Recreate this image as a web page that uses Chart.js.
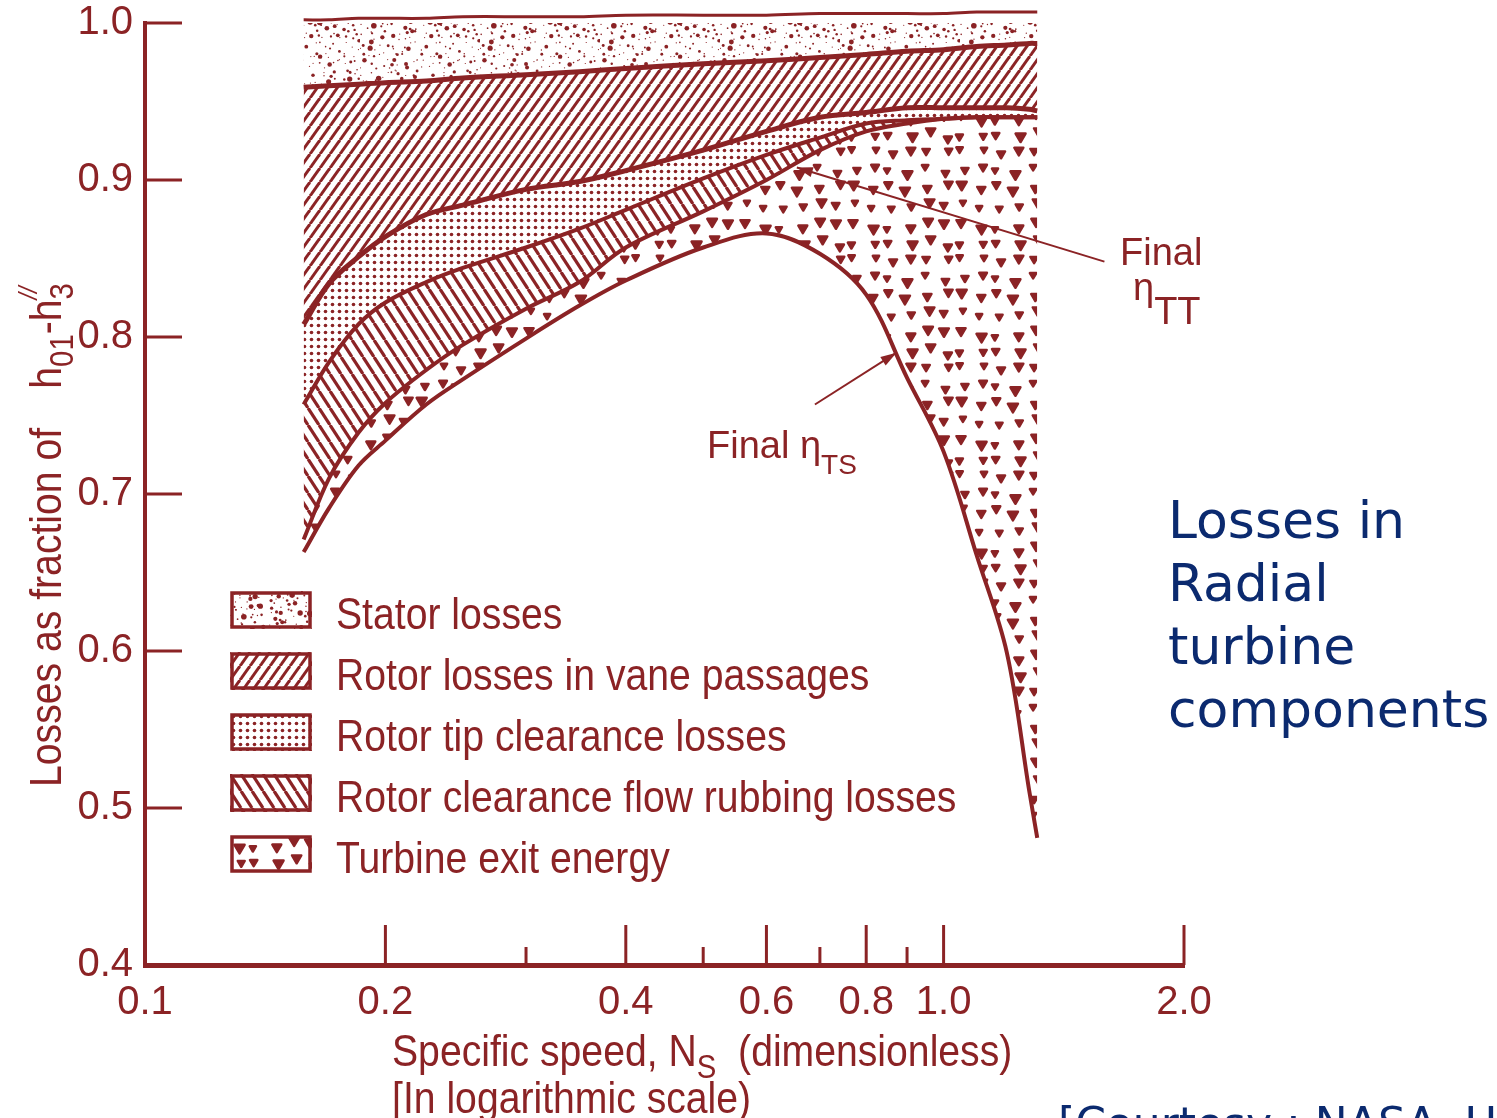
<!DOCTYPE html>
<html>
<head>
<meta charset="utf-8">
<script src="https://cdn.jsdelivr.net/npm/chart.js@4.4.1/dist/chart.umd.min.js"></script>
<style>
  html, body { margin: 0; padding: 0; background: #fff; }
  #wrap { position: relative; width: 1497px; height: 1118px; overflow: hidden; background: #fff; }
  #chart { position: absolute; left: 0; top: 0; }
  .red { color: #8b2325; font-family: 'Liberation Sans', Arial, sans-serif; }
  .txt { position: absolute; white-space: nowrap; font-size: 44px; line-height: 1; transform-origin: 0 0; transform: scaleX(0.89); }
  .txt sub { font-size: 0.75em; vertical-align: -0.35em; line-height: 0; }
  .txt sup { font-size: 0.6em; vertical-align: 0.9em; line-height: 0; font-style: italic; }
  .note { position: absolute; white-space: nowrap; font-size: 38px; line-height: 1; font-family: 'Liberation Sans', Arial, sans-serif; color: #8b2325; }
  .navy { position: absolute; color: #0b2a6f; font-family: 'DejaVu Sans', Verdana, sans-serif; font-size: 52px; line-height: 63px; white-space: nowrap; }
  #legend { position: absolute; left: 230px; top: 591px; }
  .row { position: relative; height: 61px; }
  .row canvas { position: absolute; left: 0; top: 0; }
  .row span { position: absolute; left: 106px; top: 1px; }
</style>
</head>
<body>
<div id="wrap">
  <canvas id="chart" width="1497" height="1118"></canvas>

  <div class="txt red" style="left:24px; top:787px; transform:rotate(-90deg) scaleX(0.89);">Losses as fraction of<span style="margin-left:44px">h<sub>01</sub>-h<sub>3</sub><sup style="margin-left:-0.7em">//</sup></span></div>

  <div class="txt red" style="left:392px; top:1029px;">Specific speed, N<sub>S</sub> &nbsp;(dimensionless)</div>
  <div class="txt red" style="left:392px; top:1076px;">[In logarithmic scale)</div>

  <div class="note" style="left:1120px; top:233px;">Final</div>
  <div class="note" style="left:1133px; top:268px;">η<span style="position:relative; top:24px;">TT</span></div>
  <div class="note" style="left:707px; top:426px;">Final η<span style="font-size:28px; position:relative; top:16px;">TS</span></div>

  <div class="navy" style="left:1168px; top:489px;">Losses in<br>Radial<br>turbine<br>components</div>
  <div class="navy" style="left:1058px; top:1092px; font-size:44px;">[Courtesy : NASA, USA]</div>

  <div id="legend" class="red"></div>
</div>

<script>
// specific speed Ns (log axis) and boundary curves of the loss bands
const specificSpeed = [0.158, 0.17, 0.185, 0.2, 0.225, 0.25, 0.3, 0.35, 0.4, 0.5, 0.6, 0.7, 0.8, 0.9, 1.0, 1.1, 1.2, 1.28, 1.31];
const statorTop    = [1.002, 1.002, 1.003, 1.003, 1.003, 1.004, 1.004, 1.004, 1.005, 1.005, 1.005, 1.006, 1.006, 1.006, 1.006, 1.007, 1.007, 1.007, 1.007];
const statorBottom = [0.959, 0.960, 0.961, 0.962, 0.963, 0.965, 0.967, 0.969, 0.971, 0.974, 0.976, 0.978, 0.980, 0.982, 0.983, 0.985, 0.986, 0.987, 0.987];
const vaneBottom   = [0.808, 0.834, 0.851, 0.864, 0.878, 0.884, 0.894, 0.899, 0.906, 0.919, 0.931, 0.940, 0.943, 0.946, 0.946, 0.946, 0.946, 0.945, 0.944];
const tipBottom    = [0.757, 0.784, 0.808, 0.822, 0.835, 0.844, 0.857, 0.869, 0.881, 0.901, 0.916, 0.927, 0.936, 0.938, 0.939, 0.940, 0.940, 0.940, 0.940];
const etaTT        = [0.671, 0.710, 0.739, 0.758, 0.779, 0.795, 0.818, 0.835, 0.857, 0.880, 0.900, 0.919, 0.931, 0.936, 0.939, 0.940, 0.940, 0.940, 0.940];
const etaTS        = [0.663, 0.691, 0.718, 0.734, 0.757, 0.773, 0.799, 0.820, 0.836, 0.857, 0.866, 0.853, 0.827, 0.774, 0.727, 0.661, 0.599, 0.511, 0.481];

const bandLabels = ['Stator losses', 'Rotor losses in vane passages', 'Rotor tip clearance losses', 'Rotor clearance flow rubbing losses', 'Turbine exit energy'];

const xTickLabels = [0.1, 0.2, 0.4, 0.6, 0.8, 1.0, 2.0];
const xMinorTicks = [0.3, 0.5, 0.7, 0.9];
const yTickLabels = [0.4, 0.5, 0.6, 0.7, 0.8, 0.9, 1.0];

// arrows of the two efficiency notes, in data units [Ns, fraction]
const ttArrow = { from: [1.59, 0.848], to: [0.655, 0.908] };
const tsArrow = { from: [0.69, 0.757], to: [0.873, 0.790] };

const RED = '#8b2325';

// --- fill textures ---
function hash(n) {
    const s = Math.sin(n * 127.1 + 311.7) * 43758.5453;
    return s - Math.floor(s);
}

function tile(w, h) {
    const c = document.createElement('canvas');
    c.width = w; c.height = h;
    return c;
}

function stipple() {
    const c = tile(120, 120), g = c.getContext('2d');
    g.fillStyle = RED;
    let k = 0;
    for (let i = 0; i < 20; i++) {
        for (let j = 0; j < 20; j++) {
            k++;
            if (hash(k * 3) < 0.2) continue;
            const px = i * 6 + hash(k * 3 + 1) * 6;
            const py = j * 6 + hash(k * 3 + 2) * 6;
            const r = 0.6 + Math.pow(hash(k * 7 + 5), 3) * 2.3;
            g.beginPath(); g.arc(px, py, r, 0, Math.PI * 2); g.fill();
        }
    }
    return g.createPattern(c, 'repeat');
}

function hatch(w, h, lw, back) {
    const c = tile(w, h), g = c.getContext('2d');
    g.strokeStyle = RED; g.lineWidth = lw;
    for (let k = -1; k <= 1; k++) {
        g.beginPath();
        if (back) { g.moveTo(k * w, 0); g.lineTo(k * w + w, h); }
        else { g.moveTo(k * w, h); g.lineTo(k * w + w, 0); }
        g.stroke();
    }
    return g.createPattern(c, 'repeat');
}

function dotGrid() {
    const c = tile(7, 7), g = c.getContext('2d');
    g.fillStyle = RED;
    g.beginPath(); g.arc(3.5, 3.5, 1.8, 0, Math.PI * 2); g.fill();
    return g.createPattern(c, 'repeat');
}

function blobs() {
    const c = tile(108, 108), g = c.getContext('2d');
    g.fillStyle = RED; g.strokeStyle = RED; g.lineWidth = 2.5; g.lineJoin = 'round';
    let k = 0;
    for (let i = 0; i < 6; i++) {
        for (let j = 0; j < 6; j++) {
            k++;
            const cx = i * 18 + 9 + (hash(k * 5) - 0.5) * 9;
            const cy = j * 18 + 9 + (hash(k * 5 + 1) - 0.5) * 9;
            const s = 3 + hash(k * 5 + 2) * 2.2;
            g.beginPath();
            g.moveTo(cx - s, cy - s * 0.7);
            g.lineTo(cx + s, cy - s * 0.7);
            g.lineTo(cx, cy + s);
            g.closePath();
            g.fill(); g.stroke();
        }
    }
    return g.createPattern(c, 'repeat');
}

const fills = [stipple(), hatch(10, 14, 3, false), dotGrid(), hatch(11, 17, 3.2, true), blobs()];

const curves = [statorTop, statorBottom, vaneBottom, tipBottom, etaTT, etaTS];
const widths = [3, 5, 5, 4, 4, 4];

const datasets = curves.map((vals, i) => ({
    label: bandLabels[i] || 'Final ηTS',
    data: specificSpeed.map((x, j) => ({ x: x, y: vals[j] })),
    borderColor: RED,
    borderWidth: widths[i],
    backgroundColor: fills[i] || 'transparent',
    fill: i < fills.length ? '+1' : false,
    tension: 0.35,
    pointRadius: 0,
    clip: false
}));

// --- ticks pointing into the plot, arrows ---
function seg(ctx, x1, y1, x2, y2) {
    ctx.beginPath(); ctx.moveTo(x1, y1); ctx.lineTo(x2, y2); ctx.stroke();
}

const innerTicks = {
    id: 'innerTicks',
    afterDraw(chart) {
        const { ctx, chartArea, scales: { x, y } } = chart;
        ctx.save();
        ctx.strokeStyle = RED;
        ctx.lineWidth = 3;
        xTickLabels.slice(1).forEach(v => {
            const px = x.getPixelForValue(v);
            seg(ctx, px, chartArea.bottom, px, chartArea.bottom - 40);
        });
        xMinorTicks.forEach(v => {
            const px = x.getPixelForValue(v);
            seg(ctx, px, chartArea.bottom, px, chartArea.bottom - 18);
        });
        yTickLabels.slice(1).forEach(v => {
            const py = y.getPixelForValue(v);
            seg(ctx, chartArea.left, py, chartArea.left + 37, py);
        });
        ctx.restore();
    }
};

const arrows = {
    id: 'arrows',
    afterDraw(chart) {
        const { ctx, scales: { x, y } } = chart;
        ctx.save();
        ctx.strokeStyle = RED; ctx.fillStyle = RED; ctx.lineWidth = 2;
        [ttArrow, tsArrow].forEach(a => {
            const x1 = x.getPixelForValue(a.from[0]), y1 = y.getPixelForValue(a.from[1]);
            const x2 = x.getPixelForValue(a.to[0]), y2 = y.getPixelForValue(a.to[1]);
            seg(ctx, x1, y1, x2, y2);
            const ang = Math.atan2(y2 - y1, x2 - x1);
            ctx.beginPath();
            ctx.moveTo(x2, y2);
            ctx.lineTo(x2 - 16 * Math.cos(ang) + 5 * Math.sin(ang), y2 - 16 * Math.sin(ang) - 5 * Math.cos(ang));
            ctx.lineTo(x2 - 16 * Math.cos(ang) - 5 * Math.sin(ang), y2 - 16 * Math.sin(ang) + 5 * Math.cos(ang));
            ctx.closePath();
            ctx.fill();
        });
        ctx.restore();
    }
};

Chart.defaults.font.family = "'Liberation Sans', Arial, sans-serif";
Chart.defaults.color = RED;

const tickFont = { size: 40 };

new Chart(document.getElementById('chart'), {
    type: 'line',
    data: { datasets: datasets },
    options: {
        responsive: false,
        animation: false,
        layout: { padding: { top: 23, right: 313, bottom: 0, left: 0 } },
        plugins: { legend: { display: false }, tooltip: { enabled: false } },
        scales: {
            x: {
                type: 'logarithmic',
                min: 0.1,
                max: 2.0,
                afterFit(s) { s.height = 153; s.paddingLeft = 0; s.paddingRight = 0; },
                afterBuildTicks(s) { s.ticks = xTickLabels.map(v => ({ value: v })); },
                ticks: { callback: v => Number(v).toFixed(1), font: tickFont, color: RED, padding: 14, autoSkip: false, maxRotation: 0 },
                grid: { display: false, drawTicks: false },
                border: { display: true, color: RED, width: 5 }
            },
            y: {
                type: 'linear',
                min: 0.4,
                max: 1.0,
                afterFit(s) { s.width = 145; s.paddingTop = 0; s.paddingBottom = 0; },
                afterBuildTicks(s) { s.ticks = yTickLabels.map(v => ({ value: v })); },
                ticks: { callback: v => Number(v).toFixed(1), font: tickFont, color: RED, padding: 12 },
                grid: { display: false, drawTicks: false },
                border: { display: true, color: RED, width: 4 }
            }
        }
    },
    plugins: [innerTicks, arrows]
});

// --- legend built from the band labels and their fills ---
const legend = document.getElementById('legend');
bandLabels.forEach((label, i) => {
    const row = document.createElement('div');
    row.className = 'row';
    const sw = document.createElement('canvas');
    sw.width = 82; sw.height = 38;
    const g = sw.getContext('2d');
    g.fillStyle = fills[i];
    g.fillRect(0, 0, 82, 38);
    g.strokeStyle = RED; g.lineWidth = 3.5;
    g.strokeRect(2, 2, 78, 34);
    const span = document.createElement('span');
    span.className = 'txt';
    span.textContent = label;
    row.appendChild(sw);
    row.appendChild(span);
    legend.appendChild(row);
});
</script>
</body>
</html>
